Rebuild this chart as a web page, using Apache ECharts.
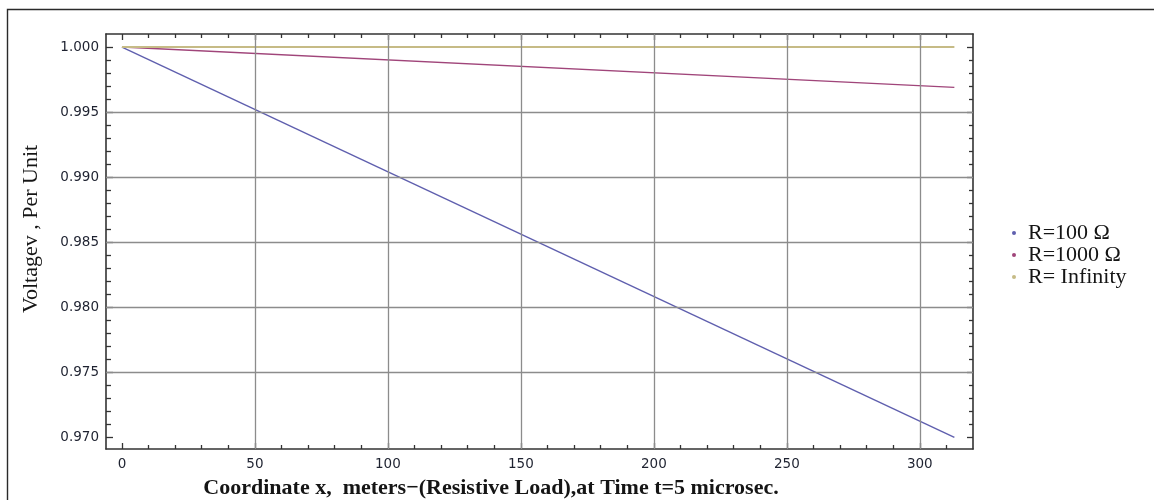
<!DOCTYPE html>
<html>
<head>
<meta charset="utf-8">
<script src="https://cdn.jsdelivr.net/npm/echarts@6/dist/echarts.min.js"></script>
<style>
  html, body { margin: 0; padding: 0; background: #ffffff; }
  #chart { width: 1154px; height: 500px; }
</style>
</head>
<body>
<div id="chart"></div>
<script>
// Distance along the line (m) at which each voltage is sampled
const xPoints = [0, 313];

// Per-unit voltage at t = 5 µs for each load resistance
const vR100 = [1.000, 0.970];
const vR1000 = [1.000, 0.9969];
const vRInf = [1.000, 1.000];

const seriesNames = ['R=100 Ω', 'R=1000 Ω', 'R= Infinity'];

// Labelled ticks
const xMajorTicks = [0, 50, 100, 150, 200, 250, 300];
const yMajorTicks = [0.970, 0.975, 0.980, 0.985, 0.990, 0.995, 1.000];

// Grid lines (none on the first x tick or the outer y ticks)
const xGridLines = [50, 100, 150, 200, 250, 300];
const yGridLines = [0.975, 0.980, 0.985, 0.990, 0.995];

// Unlabelled minor ticks: every 10 m and every 0.001 p.u.
const xMinorTicks = [];
for (let v = 10; v <= 310; v += 10) if (v % 50 !== 0) xMinorTicks.push(v);
const yMinorTicks = [];
for (let k = 970; k <= 1000; k++) if (k % 5 !== 0) yMinorTicks.push(k / 1000);

const X_MIN = -6, X_MAX = 320;
const Y_MIN = 0.9691, Y_MAX = 1.0010;

const frameColor = '#333333';
const tickFont = { fontFamily: 'DejaVu Sans', fontSize: 13.5, color: '#1e2230' };

function pairs(xs, ys) { return xs.map((x, i) => [x, ys[i]]); }

function xAxisDef(position, ticks, len, showLine, showLabel) {
  return {
    type: 'value', position: position, min: X_MIN, max: X_MAX,
    axisLine: { show: showLine, onZero: false, lineStyle: { color: frameColor, width: 1.6 } },
    axisTick: { show: true, inside: true, length: len, customValues: ticks,
                lineStyle: { color: frameColor, width: 1.3 } },
    axisLabel: showLabel
      ? Object.assign({ show: true, customValues: ticks, margin: 8,
          formatter: v => String(v) }, tickFont)
      : { show: false },
    splitLine: { show: false }
  };
}

function yAxisDef(position, ticks, len, showLine, showLabel) {
  return {
    type: 'value', position: position, min: Y_MIN, max: Y_MAX,
    axisLine: { show: showLine, onZero: false, lineStyle: { color: frameColor, width: 1.6 } },
    axisTick: { show: true, inside: true, length: len, customValues: ticks,
                lineStyle: { color: frameColor, width: 1.3 } },
    axisLabel: showLabel
      ? Object.assign({ show: true, customValues: ticks, margin: 7,
          formatter: v => v.toFixed(3) }, tickFont)
      : { show: false },
    splitLine: { show: false }
  };
}

const lineColors = ['#5f5fae', '#a0457a', '#c6bb86'];

const chart = echarts.init(document.getElementById('chart'), null, { renderer: 'canvas' });

chart.setOption({
  animation: false,
  backgroundColor: '#ffffff',
  grid: { left: 106, right: 181, top: 34, bottom: 51, containLabel: false },
  xAxis: [
    xAxisDef('bottom', xMajorTicks, 6, true, true),
    xAxisDef('bottom', xMinorTicks, 4, false, false),
    xAxisDef('top', xMajorTicks, 6, true, false),
    xAxisDef('top', xMinorTicks, 4, false, false)
  ],
  yAxis: [
    yAxisDef('left', yMajorTicks, 7, true, true),
    yAxisDef('left', yMinorTicks, 5, false, false),
    yAxisDef('right', yMajorTicks, 6, true, false),
    yAxisDef('right', yMinorTicks, 4, false, false)
  ],
  legend: {
    orient: 'vertical',
    left: 1007, top: 217,
    data: seriesNames.map(n => ({ name: n, icon: 'circle' })),
    itemWidth: 4, itemHeight: 4, itemGap: 0,
    textStyle: { fontFamily: 'Liberation Serif', fontSize: 22, color: '#151515',
                 lineHeight: 22, padding: [0, 0, 0, 7] },
    selectedMode: false
  },
  graphic: [
    { type: 'rect', silent: true, z: 0,
      shape: { x: 7.5, y: 9.5, width: 1300, height: 700 },
      style: { fill: null, stroke: '#2a2a2a', lineWidth: 1.4 } },
    { type: 'text', silent: true, x: 31, y: 229, rotation: Math.PI / 2,
      style: { text: 'Voltagev , Per Unit', font: '22px "Liberation Serif"',
               fill: '#151515', align: 'center', verticalAlign: 'middle' } },
    { type: 'text', silent: true, x: 491, y: 488,
      style: { text: 'Coordinate x,  meters\u2212(Resistive Load),at Time t=5 microsec.',
               font: 'bold 22px "Liberation Serif"', fill: '#151515',
               align: 'center', verticalAlign: 'middle' } }
  ],
  series: [
    {
      name: '_grid', type: 'line', data: [], z: 1, silent: true,
      markLine: {
        silent: true, symbol: 'none', animation: false, precision: 4,
        label: { show: false },
        lineStyle: { color: '#8c8c8c', width: 1.3, type: 'solid' },
        emphasis: { disabled: true },
        data: xGridLines.map(v => ({ xAxis: v })).concat(yGridLines.map(v => ({ yAxis: v })))
      }
    },
    { name: seriesNames[0], type: 'line', data: pairs(xPoints, vR100), z: 3,
      showSymbol: false, color: lineColors[0], lineStyle: { width: 1.4 } },
    { name: seriesNames[1], type: 'line', data: pairs(xPoints, vR1000), z: 3,
      showSymbol: false, color: lineColors[1], lineStyle: { width: 1.4 } },
    { name: seriesNames[2], type: 'line', data: pairs(xPoints, vRInf), z: 3,
      showSymbol: false, color: lineColors[2], lineStyle: { width: 1.8 } }
  ]
});
</script>
</body>
</html>
